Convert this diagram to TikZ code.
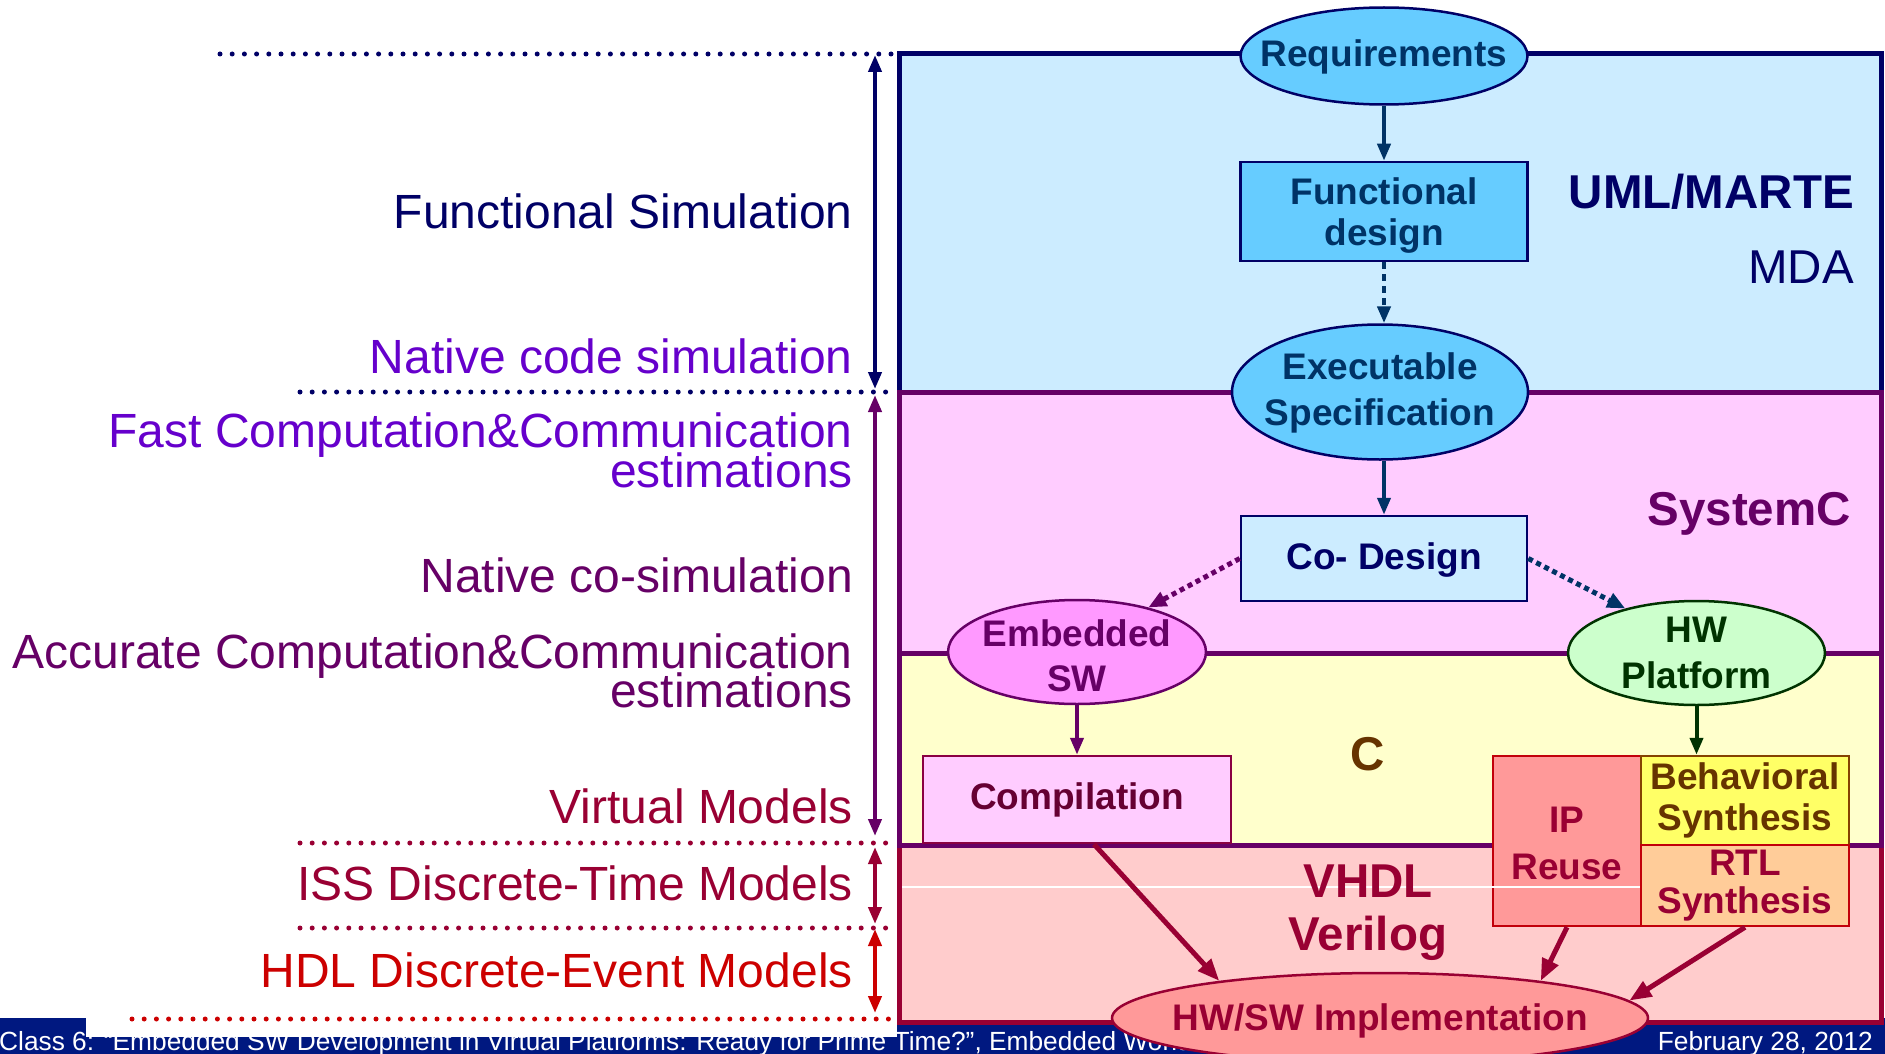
\documentclass[tikz,border=0pt]{standalone}
\usepackage{fontspec}
\setmainfont{Liberation Sans}
\usetikzlibrary{arrows.meta,shapes.geometric}

\definecolor{cNavy}{HTML}{000066}
\definecolor{cSteel}{HTML}{003366}
\definecolor{cPlum}{HTML}{660066}
\definecolor{cViolet}{HTML}{6600CC}
\definecolor{cWine}{HTML}{990033}
\definecolor{cScarlet}{HTML}{CC0000}
\definecolor{cForest}{HTML}{003300}
\definecolor{cBrown}{HTML}{663300}
\definecolor{cMaroon}{HTML}{660033}
\definecolor{cFooter}{HTML}{001880}
\definecolor{bandBlue}{HTML}{CCECFF}
\definecolor{bandPink}{HTML}{FFCCFF}
\definecolor{bandYellow}{HTML}{FFFFCC}
\definecolor{bandRed}{HTML}{FFCCCC}
\definecolor{fillSky}{HTML}{66CCFF}
\definecolor{fillOrchid}{HTML}{FF99FF}
\definecolor{fillMint}{HTML}{CCFFCC}
\definecolor{fillSalmon}{HTML}{FF9999}
\definecolor{fillLemon}{HTML}{FFFF66}
\definecolor{fillPeach}{HTML}{FFCC99}

\tikzset{
  lbl/.style={anchor=base east, inner sep=0pt, font=\fontsize{48}{48}\selectfont},
  ttl/.style={inner sep=0pt, font=\fontsize{47.5}{47.5}\selectfont\bfseries},
  nodetext/.style={font=\fontsize{37}{44}\selectfont\bfseries, align=center, inner sep=0pt},
  boxnode/.style={nodetext, rectangle, draw, line width=2.5pt},
  ellnode/.style={ellipse, draw, line width=2.5pt, inner sep=0pt},
  dotline/.style={line width=5pt, line cap=round, dash pattern=on 0pt off 12.2pt},
  span/.style={line width=4pt, {Triangle[length=17pt,width=13pt]}-{Triangle[length=17pt,width=13pt]}},
  flow/.style={line width=4pt, -{Triangle[length=17pt,width=13pt]}},
  dotflow/.style={line width=5pt, dash pattern=on 5pt off 4pt, -{Triangle[length=18pt,width=15pt]}},
  bigflow/.style={line width=5pt, -{Triangle[length=22pt,width=17pt]}},
  band/.style={line width=5pt},
  artifact/.style={white, line width=1.2pt},
  foot/.style={inner sep=0pt, text=white, font=\fontsize{26.3}{26.3}\selectfont},
}

\begin{document}
\begin{tikzpicture}[x=1pt,y=-1pt]
\useasboundingbox (0,0) rectangle (1885,1054);
\clip (0,0) rectangle (1885,1054);

% footer strip
\fill[cFooter] (0,1018) rectangle (1885,1054);
\node[foot, anchor=base west] (footL) at (-1,1050)
  {Class 6: “Embedded SW Development in Virtual Platforms: Ready for Prime Time?”, Embedded World};
\node[foot, anchor=base east] (footR) at (1873,1050) {February 28, 2012};
\fill[white] (86,1000) rectangle (897,1037);

% abstraction bands
\draw[band, draw=cWine, fill=bandRed] (899,845) rectangle (1881,1022);
\draw[band, draw=cNavy, fill=bandBlue] (899,54) rectangle (1881,392);
\draw[band, draw=cPlum, fill=bandPink] (899,392) rectangle (1881,653);
\draw[band, draw=cPlum, fill=bandYellow] (899,653) rectangle (1881,845);

% faint rule across the HDL band
\coordinate (rulea) at (902,887);
\coordinate (ruleb) at (1493,887);
\draw[artifact] (rulea) -- (ruleb);

% level separators
\coordinate (l1a) at (220,54);   \coordinate (l1b) at (896,54);
\coordinate (l2a) at (300,392);  \coordinate (l2b) at (896,392);
\coordinate (l3a) at (300,843);  \coordinate (l3b) at (896,843);
\coordinate (l4a) at (300,928);  \coordinate (l4b) at (896,928);
\coordinate (l5a) at (132,1019); \coordinate (l5b) at (896,1019);
\draw[dotline, cNavy] (l1a) -- (l1b);
\draw[dotline, cNavy] (l2a) -- (l2b);
\draw[dotline, cWine] (l3a) -- (l3b);
\draw[dotline, cWine] (l4a) -- (l4b);
\draw[dotline, cScarlet] (l5a) -- (l5b);

% ranges
\coordinate (s1a) at (875,55);  \coordinate (s1b) at (875,389);
\coordinate (s2a) at (875,395); \coordinate (s2b) at (875,836);
\coordinate (s3a) at (875,847); \coordinate (s3b) at (875,924);
\coordinate (s4a) at (875,929); \coordinate (s4b) at (875,1013);
\draw[span, cNavy] (s1a) -- (s1b);
\draw[span, cPlum] (s2a) -- (s2b);
\draw[span, cWine] (s3a) -- (s3b);
\draw[span, cScarlet] (s4a) -- (s4b);

% simulation levels
\node[lbl, text=cNavy] (fsim) at (853,228) {Functional Simulation};
\node[lbl, text=cViolet] (ncs) at (853,373) {Native code simulation};
\node[lbl, text=cViolet] (fast1) at (853,447) {Fast Computation\&Communication};
\node[lbl, text=cViolet] (fast2) at (853,487) {estimations};
\node[lbl, text=cPlum] (ncos) at (853,592) {Native co-simulation};
\node[lbl, text=cPlum] (acc1) at (853,668) {Accurate Computation\&Communication};
\node[lbl, text=cPlum] (acc2) at (853,707) {estimations};
\node[lbl, text=cWine] (vm) at (853,823) {Virtual Models};
\node[lbl, text=cWine] (iss) at (853,900) {ISS Discrete-Time Models};
\node[lbl, text=cScarlet] (hdl) at (853,987) {HDL Discrete-Event Models};

% band titles
\node[ttl, anchor=base east, text=cNavy] (uml) at (1854,208) {UML/MARTE};
\node[lbl, anchor=base east, font=\fontsize{47.5}{47.5}\selectfont, text=cNavy] (mda) at (1854,283) {MDA};
\node[ttl, anchor=base east, text=cPlum] (sysc) at (1851,525) {SystemC};
\node[ttl, anchor=base, text=cBrown] (clang) at (1368,770) {C};
\node[ttl, anchor=base, text=cWine] (vhdl) at (1368,897) {VHDL};
\node[ttl, anchor=base, text=cWine] (veri) at (1368,950) {Verilog};

% design flow
\node[ellnode, draw=cNavy, fill=fillSky, minimum width=287pt, minimum height=97pt,
  label={[nodetext, text=cSteel, yshift=-1pt]center:Requirements}] (req) at (1384,56) {};
\node[rectangle, draw, line width=2.5pt, inner sep=0pt, draw=cNavy, fill=fillSky,
  minimum width=287pt, minimum height=99pt,
  label={[nodetext, text=cSteel, font=\fontsize{37}{41}\selectfont\bfseries, yshift=-4pt]center:{Functional\\design}}]
  (fd) at (1384,211.5) {};
\node[ellnode, draw=cNavy, fill=fillSky, minimum width=296pt, minimum height=135pt,
  label={[nodetext, text=cSteel, font=\fontsize{37}{46}\selectfont\bfseries, yshift=-1pt]center:{Executable\\Specification}}]
  (exe) at (1380,392) {};
\node[boxnode, draw=cNavy, fill=bandBlue, text=cNavy, minimum width=286pt, minimum height=85pt,
  text depth=4pt] (co) at (1384,558.5) {Co- Design};
\node[ellnode, draw=cPlum, fill=fillOrchid, minimum width=258pt, minimum height=104pt,
  label={[nodetext, text=cPlum, font=\fontsize{37}{44.5}\selectfont\bfseries, yshift=-4pt]center:{Embedded\\SW}}]
  (esw) at (1077,652) {};
\node[ellnode, draw=cForest, fill=fillMint, minimum width=257pt, minimum height=104pt,
  label={[nodetext, text=cForest, font=\fontsize{37}{46}\selectfont\bfseries]center:{HW\\Platform}}]
  (hwp) at (1696.5,653) {};
\node[boxnode, draw=cWine!70!cPlum, fill=bandPink, text=cMaroon, minimum width=308pt, minimum height=87pt]
  (comp) at (1077,799.5) {Compilation};
\node[rectangle, draw, line width=2.5pt, inner sep=0pt, draw=cScarlet!80!cWine, fill=fillSalmon,
  minimum width=148pt, minimum height=170pt,
  label={[nodetext, text=cWine, font=\fontsize{37}{47}\selectfont\bfseries, yshift=-2pt]center:{IP\\Reuse}}]
  (ip) at (1567,841) {};
\draw[artifact] (ip.west |- rulea) -- (ip.east |- rulea);
\node[boxnode, draw=cBrown!80!orange, fill=fillLemon, text=cBrown, minimum width=208pt, minimum height=89pt,
  font=\fontsize{37}{41}\selectfont\bfseries] (beh) at (1745,800.5) {Behavioral\\Synthesis};
\node[boxnode, draw=cScarlet!80!cWine, fill=fillPeach, text=cWine, minimum width=208pt, minimum height=81pt,
  font=\fontsize{37}{38.5}\selectfont\bfseries] (rtl) at (1745,885.5) {RTL\\Synthesis};
\node[ellnode, draw=cWine, fill=fillSalmon, minimum width=536pt, minimum height=90pt,
  label={[nodetext, text=cWine, yshift=-3pt]center:{HW/SW Implementation}}] (impl) at (1380,1018) {};

% connectors
\draw[flow, cSteel] (req.south) -- (fd.north);
\draw[flow, cSteel, line width=4.5pt, dash pattern=on 7pt off 5pt] (fd.south) -- (fd.south |- exe.north);
\draw[flow, cSteel] (co.north |- exe.south) -- (co.north);
\draw[dotflow, cPlum] (co.west) -- (esw.32);
\draw[dotflow, cSteel] (co.east) -- (hwp.148);
\draw[flow, cPlum] (esw.south) -- (comp.north);
\draw[flow, cForest] (hwp.south) -- (hwp.south |- beh.north);
\draw[bigflow, cWine] ([xshift=17pt]comp.south) -- (impl.167);
\draw[bigflow, cWine] (ip.south) -- (impl.13);
\draw[bigflow, cWine] (rtl.south) -- (impl.4);
\end{tikzpicture}
\end{document}
